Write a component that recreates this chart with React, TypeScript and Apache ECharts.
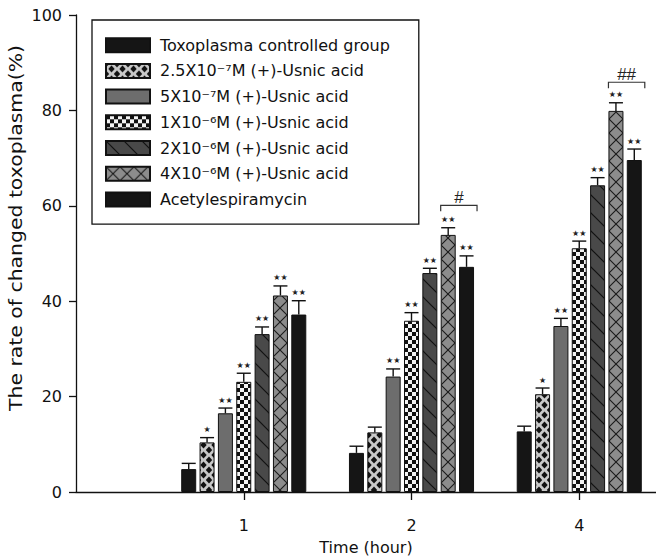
import React, { useEffect, useRef } from "react";
import * as echarts from "echarts";

// ---------- data ----------
const categories = ["1", "2", "4"];
const seriesNames = [
  "Toxoplasma controlled group",
  "2.5X10⁻⁷M (+)-Usnic acid",
  "5X10⁻⁷M (+)-Usnic acid",
  "1X10⁻⁶M (+)-Usnic acid",
  "2X10⁻⁶M (+)-Usnic acid",
  "4X10⁻⁶M (+)-Usnic acid",
  "Acetylespiramycin",
];
const controlValues = [4.8, 8.2, 12.7];
const usnic25e7Values = [10.4, 12.5, 20.5];
const usnic5e7Values = [16.5, 24.2, 34.8];
const usnic1e6Values = [23.1, 35.9, 51.1];
const usnic2e6Values = [33.1, 45.9, 64.3];
const usnic4e6Values = [41.2, 53.9, 79.9];
const acetylValues = [37.2, 47.2, 69.6];

const controlErrors = [1.2, 1.4, 1.1];
const usnic25e7Errors = [1.0, 1.1, 1.3];
const usnic5e7Errors = [1.1, 1.6, 1.6];
const usnic1e6Errors = [1.8, 1.7, 1.5];
const usnic2e6Errors = [1.5, 1.0, 1.6];
const usnic4e6Errors = [2.0, 1.5, 1.7];
const acetylErrors = [2.9, 2.3, 2.3];

const controlSig = ["", "", ""];
const usnic25e7Sig = ["★", "", "★"];
const usnic5e7Sig = ["★★", "★★", "★★"];
const usnic1e6Sig = ["★★", "★★", "★★"];
const usnic2e6Sig = ["★★", "★★", "★★"];
const usnic4e6Sig = ["★★", "★★", "★★"];
const acetylSig = ["★★", "★★", "★★"];

const bracketCategoryIdx = [1, 2];
const bracketValues = [60.1, 85.9];
const bracketLabels = ["#", "##"];

const yMin = 0;
const yMax = 100;
const yInterval = 20;

const valueSets = [
  controlValues,
  usnic25e7Values,
  usnic5e7Values,
  usnic1e6Values,
  usnic2e6Values,
  usnic4e6Values,
  acetylValues,
];
const errorSets = [
  controlErrors,
  usnic25e7Errors,
  usnic5e7Errors,
  usnic1e6Errors,
  usnic2e6Errors,
  usnic4e6Errors,
  acetylErrors,
];
const sigSets = [
  controlSig,
  usnic25e7Sig,
  usnic5e7Sig,
  usnic1e6Sig,
  usnic2e6Sig,
  usnic4e6Sig,
  acetylSig,
];

// ---------- styling ----------
const FONT = "DejaVu Sans";
const INK = "#111111";
const BAR_WIDTH = 15;
const BAR_GAP = 0.223;
const PITCH = BAR_WIDTH * (1 + BAR_GAP);
const MID = (seriesNames.length - 1) / 2;

function makeTile(w: number, h: number, draw: (ctx: CanvasRenderingContext2D) => void) {
  const c = document.createElement("canvas");
  c.width = w;
  c.height = h;
  const ctx = c.getContext("2d") as CanvasRenderingContext2D;
  draw(ctx);
  return { image: c.toDataURL(), repeat: "repeat", imageWidth: w, imageHeight: h } as any;
}

function buildFills() {
  const diamond = makeTile(11, 10, (ctx) => {
    ctx.fillStyle = "#c9c9c9";
    ctx.fillRect(0, 0, 11, 10);
    ctx.fillStyle = "#111";
    const d = (cx: number, cy: number) => {
      ctx.beginPath();
      ctx.moveTo(cx, cy - 3.6);
      ctx.lineTo(cx + 3.2, cy);
      ctx.lineTo(cx, cy + 3.6);
      ctx.lineTo(cx - 3.2, cy);
      ctx.closePath();
      ctx.fill();
    };
    d(5.5, 5);
    d(0, 0);
    d(11, 0);
    d(0, 10);
    d(11, 10);
  });
  const checker = makeTile(8, 8, (ctx) => {
    ctx.fillStyle = "#f4f4f4";
    ctx.fillRect(0, 0, 8, 8);
    ctx.fillStyle = "#111";
    ctx.fillRect(0, 0, 4, 4);
    ctx.fillRect(4, 4, 4, 4);
  });
  const diagonal = makeTile(18, 18, (ctx) => {
    ctx.fillStyle = "#494949";
    ctx.fillRect(0, 0, 18, 18);
    ctx.strokeStyle = "#111";
    ctx.lineWidth = 1.2;
    for (const k of [-18, 0, 18]) {
      ctx.beginPath();
      ctx.moveTo(k - 1, -1);
      ctx.lineTo(k + 19, 19);
      ctx.stroke();
    }
  });
  const cross = makeTile(14, 14, (ctx) => {
    ctx.fillStyle = "#8c8c8c";
    ctx.fillRect(0, 0, 14, 14);
    ctx.strokeStyle = "#1a1a1a";
    ctx.lineWidth = 1.1;
    ctx.beginPath();
    ctx.moveTo(-1, -1);
    ctx.lineTo(15, 15);
    ctx.moveTo(15, -1);
    ctx.lineTo(-1, 15);
    ctx.stroke();
  });
  return ["#151515", diamond, "#6d6d6d", checker, diagonal, cross, "#151515"];
}

export default function App() {
  const ref = useRef<HTMLDivElement>(null);

  useEffect(() => {
    document.body.style.margin = "0";
    if (!ref.current) return;
    const chart = echarts.init(ref.current, undefined, { renderer: "svg" });
    const fills = buildFills();

    const barSeries = seriesNames.map((name, s) => ({
      name,
      type: "bar",
      data: valueSets[s].map((v, c) => [c + 1, v]),
      barWidth: BAR_WIDTH,
      barGap: `${BAR_GAP * 100}%`,
      itemStyle: { color: fills[s], borderColor: INK, borderWidth: 1 },
      emphasis: { disabled: true },
      silent: true,
    }));

    const errData: number[][] = [];
    const errSig: string[] = [];
    valueSets.forEach((vals, s) =>
      vals.forEach((v, c) => {
        errData.push([c + 1, v, v + errorSets[s][c], s]);
        errSig.push(sigSets[s][c]);
      })
    );

    const errorSeries = {
      type: "custom",
      name: "errors",
      silent: true,
      z: 5,
      encode: { x: 0, y: 2 },
      data: errData,
      renderItem: (params: any, api: any) => {
        const x = api.value(0);
        const v = api.value(1);
        const top = api.value(2);
        const s = api.value(3);
        const p0 = api.coord([x, v]);
        const p1 = api.coord([x, top]);
        const cx = p0[0] + (s - MID) * PITCH;
        const sig = errSig[params.dataIndex];
        const children: any[] = [
          {
            type: "line",
            shape: { x1: cx, y1: p0[1], x2: cx, y2: p1[1] },
            style: { stroke: INK, lineWidth: 1.4 },
          },
          {
            type: "line",
            shape: { x1: cx - 7, y1: p1[1], x2: cx + 7, y2: p1[1] },
            style: { stroke: INK, lineWidth: 1.4 },
          },
        ];
        if (sig) {
          children.push({
            type: "text",
            style: {
              text: sig,
              x: cx,
              y: p1[1] - 8,
              fill: "#222",
              fontSize: 8,
              fontFamily: FONT,
              align: "center",
              verticalAlign: "middle",
            },
          });
        }
        return { type: "group", children };
      },
    };

    const bracketSeries = {
      type: "custom",
      name: "brackets",
      silent: true,
      z: 5,
      encode: { x: 0, y: 1 },
      data: bracketCategoryIdx.map((c, i) => [c + 1, bracketValues[i]]),
      renderItem: (params: any, api: any) => {
        const p = api.coord([api.value(0), api.value(1)]);
        const left = p[0] + (5 - MID) * PITCH - BAR_WIDTH / 2;
        const right = p[0] + (6 - MID) * PITCH + BAR_WIDTH / 2 + 3;
        return {
          type: "group",
          children: [
            {
              type: "polyline",
              shape: {
                points: [
                  [left, p[1] + 6],
                  [left, p[1]],
                  [right, p[1]],
                  [right, p[1] + 6],
                ],
              },
              style: { stroke: "#333", lineWidth: 1.2, fill: "none" },
            },
            {
              type: "text",
              style: {
                text: bracketLabels[params.dataIndex],
                x: (left + right) / 2,
                y: p[1] - 8,
                fill: "#222",
                fontSize: 17,
                fontFamily: "Liberation Sans",
                align: "center",
                verticalAlign: "middle",
              },
            },
          ],
        };
      },
    };

    const option: any = {
      animation: false,
      backgroundColor: "#ffffff",
      grid: { left: 76, right: 0, top: 15, bottom: 60, containLabel: false },
      legend: {
        data: seriesNames,
        orient: "vertical",
        left: 92,
        top: 20,
        icon: "rect",
        itemWidth: 44,
        itemHeight: 14,
        itemGap: 9.7,
        padding: [17.2, 29, 16.8, 13],
        borderColor: INK,
        borderWidth: 1.3,
        selectedMode: false,
        textStyle: {
          fontFamily: FONT,
          fontSize: 16,
          color: INK,
          lineHeight: 14,
          padding: [0, 0, 0, 5],
        },
      },
      xAxis: {
        type: "value",
        min: 0,
        max: 3.4575,
        axisLine: { show: true, onZero: false, lineStyle: { color: INK, width: 1.3 } },
        axisTick: { show: true, customValues: [1, 2, 3], length: 8, lineStyle: { color: INK, width: 1.3 } },
        axisLabel: {
          customValues: [1, 2, 3],
          formatter: (v: number) => categories[Math.round(v) - 1] ?? "",
          margin: 25,
          fontSize: 16,
          fontFamily: FONT,
          color: INK,
        },
        splitLine: { show: false },
        name: "Time (hour)",
        nameLocation: "middle",
        nameGap: 47,
        nameTextStyle: { fontSize: 16, fontFamily: FONT, color: INK },
      },
      yAxis: {
        type: "value",
        min: yMin,
        max: yMax,
        interval: yInterval,
        axisLine: { show: true, lineStyle: { color: INK, width: 1.3 } },
        axisTick: { show: true, length: 7, lineStyle: { color: INK, width: 1.3 } },
        axisLabel: { margin: 14, fontSize: 16, fontFamily: FONT, color: INK },
        splitLine: { show: false },
      },
      graphic: [
        {
          type: "text",
          x: 16,
          y: 228,
          rotation: Math.PI / 2,
          scaleX: 1.2,
          style: {
            text: "The rate of changed toxoplasma(%)",
            fontSize: 17,
            fontFamily: FONT,
            fill: INK,
            align: "center",
            verticalAlign: "middle",
          },
        },
      ],
      series: [...barSeries, errorSeries, bracketSeries],
    };

    chart.setOption(option);
    return () => chart.dispose();
  }, []);

  return (
    <div
      ref={ref}
      style={{ position: "fixed", left: 0, top: 0, width: 656, height: 560, background: "#fff" }}
    />
  );
}
